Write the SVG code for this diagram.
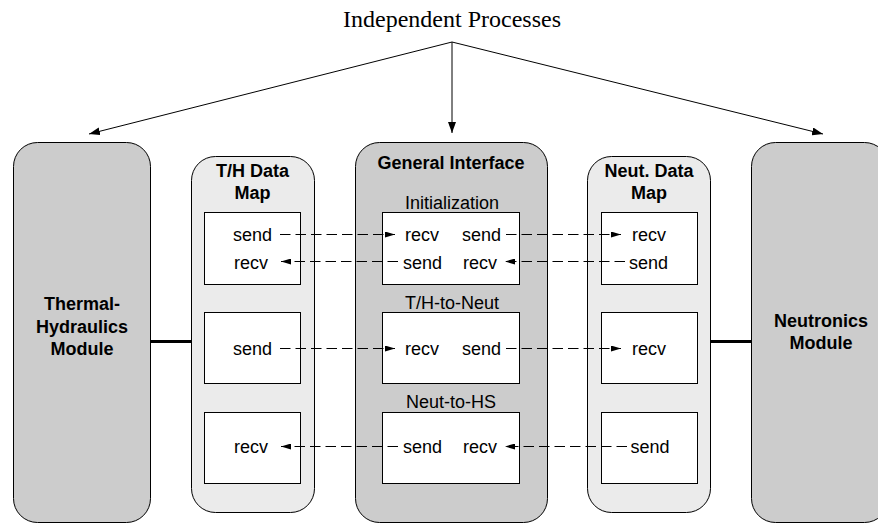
<svg xmlns="http://www.w3.org/2000/svg" width="878" height="524" viewBox="0 0 878 524">
  <style>
    .module { fill: #cccccc; stroke: #000; stroke-width: 1; }
    .map { fill: #ebebeb; stroke: #000; stroke-width: 1; }
    .slot { fill: #ffffff; stroke: #000; stroke-width: 1; }
    .title { font-family: "Liberation Sans", Arial, sans-serif; font-size: 18px; font-weight: bold; text-anchor: middle; fill: #000; }
    .label { font-family: "Liberation Sans", Arial, sans-serif; font-size: 18px; fill: #000; }
    .mid { text-anchor: middle; }
    .end { text-anchor: end; }
    .head { font-family: "Liberation Serif", "Times New Roman", serif; font-size: 24px; text-anchor: middle; fill: #000; }
    .spawn { stroke: #000; stroke-width: 1; fill: none; marker-end: url(#bigArrow); }
    .msg { stroke: #000; stroke-width: 1; fill: none; stroke-dasharray: 10.5 5; marker-end: url(#smallArrow); }
    .link { stroke: #000; stroke-width: 3; }
  </style>
  <defs>
    <marker id="bigArrow" markerUnits="userSpaceOnUse" markerWidth="11" markerHeight="8" refX="11" refY="4" orient="auto">
      <path d="M0,0 L11,4 L0,8 z" fill="#000"/>
    </marker>
    <marker id="smallArrow" markerUnits="userSpaceOnUse" markerWidth="10" markerHeight="6" refX="10" refY="3" orient="auto">
      <path d="M0,0 L10,3 L0,6 z" fill="#000"/>
    </marker>
  </defs>

  <rect width="878" height="524" fill="#ffffff"/>

  <!-- header -->
  <g id="independent-processes">
    <text class="head" x="452" y="27">Independent Processes</text>
  </g>

  <!-- thermal-hydraulics module -->
  <g id="th-module">
    <rect class="module" x="13.5" y="142.5" width="137" height="380" rx="24" ry="24"/>
    <text class="title" x="82" y="310">Thermal-</text>
    <text class="title" x="82" y="332.5">Hydraulics</text>
    <text class="title" x="82" y="355">Module</text>
  </g>

  <!-- T/H data map -->
  <g id="th-map">
    <rect class="map" x="191.5" y="156.5" width="123" height="356" rx="24" ry="24"/>
    <text class="title" x="252.5" y="177">T/H Data</text>
    <text class="title" x="252.5" y="199">Map</text>
    <rect class="slot" x="204.5" y="212.5" width="96" height="72"/>
    <text class="label mid" x="252.5" y="241">send</text>
    <text class="label mid" x="251" y="269">recv</text>
    <rect class="slot" x="204.5" y="312.5" width="96" height="71"/>
    <text class="label mid" x="252.5" y="355">send</text>
    <rect class="slot" x="204.5" y="412.5" width="96" height="71"/>
    <text class="label mid" x="251" y="453">recv</text>
  </g>

  <!-- general interface -->
  <g id="general-interface">
    <rect class="module" x="355.5" y="142.5" width="192" height="380" rx="24" ry="24"/>
    <text class="title" x="451" y="169">General Interface</text>
    <text class="label mid" x="452" y="209">Initialization</text>
    <rect class="slot" x="382.5" y="212.5" width="137" height="72"/>
    <text class="label" x="405" y="241">recv</text>
    <text class="label end" x="501" y="241">send</text>
    <text class="label" x="403" y="269">send</text>
    <text class="label end" x="497" y="269">recv</text>
    <text class="label mid" x="452" y="309">T/H-to-Neut</text>
    <rect class="slot" x="382.5" y="312.5" width="137" height="71"/>
    <text class="label" x="405" y="355">recv</text>
    <text class="label end" x="501" y="355">send</text>
    <text class="label mid" x="451" y="408">Neut-to-HS</text>
    <rect class="slot" x="382.5" y="412.5" width="137" height="71"/>
    <text class="label" x="403" y="453">send</text>
    <text class="label end" x="497" y="453">recv</text>
  </g>

  <!-- neutronics data map -->
  <g id="neut-map">
    <rect class="map" x="587.5" y="156.5" width="123" height="356" rx="24" ry="24"/>
    <text class="title" x="649" y="177">Neut. Data</text>
    <text class="title" x="649" y="199">Map</text>
    <rect class="slot" x="601.5" y="212.5" width="96" height="72"/>
    <text class="label mid" x="649" y="241">recv</text>
    <text class="label mid" x="648.5" y="269">send</text>
    <rect class="slot" x="601.5" y="312.5" width="96" height="71"/>
    <text class="label mid" x="649" y="355">recv</text>
    <rect class="slot" x="601.5" y="412.5" width="96" height="71"/>
    <text class="label mid" x="650" y="453">send</text>
  </g>

  <!-- neutronics module -->
  <g id="neut-module">
    <rect class="module" x="751.5" y="142.5" width="137" height="380" rx="24" ry="24"/>
    <text class="title" x="821" y="327">Neutronics</text>
    <text class="title" x="821" y="348.5">Module</text>
  </g>

  <!-- connectors -->
  <g id="connectors">
    <!-- process spawning -->
    <line class="spawn" x1="452" y1="42" x2="89" y2="134"/>
    <line class="spawn" x1="452" y1="42" x2="452" y2="133"/>
    <line class="spawn" x1="452" y1="42" x2="823" y2="134"/>

    <!-- module to data map links -->
    <line class="link" x1="150" y1="341.5" x2="191" y2="341.5"/>
    <line class="link" x1="711" y1="341.5" x2="752" y2="341.5"/>

    <!-- initialization exchange -->
    <line class="msg" x1="280" y1="234.5" x2="395" y2="234.5"/>
    <line class="msg" x1="506" y1="234.5" x2="621" y2="234.5"/>
    <line class="msg" x1="625" y1="261.5" x2="505" y2="261.5"/>
    <line class="msg" x1="398" y1="261.5" x2="281" y2="261.5"/>

    <!-- T/H to neutronics -->
    <line class="msg" x1="280" y1="348.5" x2="395" y2="348.5"/>
    <line class="msg" x1="506" y1="348.5" x2="621" y2="348.5"/>

    <!-- neutronics to heat structures -->
    <line class="msg" x1="627" y1="446.5" x2="505" y2="446.5"/>
    <line class="msg" x1="398" y1="446.5" x2="281" y2="446.5"/>
  </g>
</svg>
